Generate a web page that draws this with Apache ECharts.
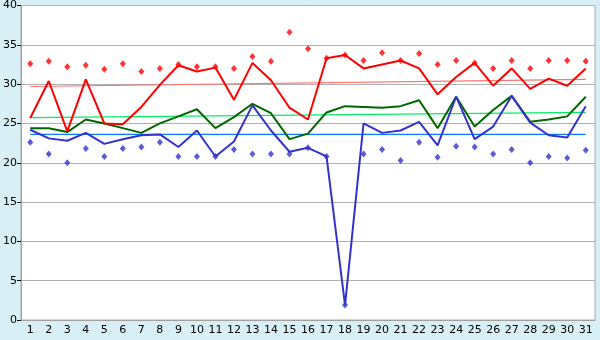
<!DOCTYPE html>
<html>
<head>
<meta charset="utf-8">
<script src="https://cdn.jsdelivr.net/npm/echarts@6/dist/echarts.min.js"></script>
<style>
html,body{margin:0;padding:0;background:#d9eff6;}
#chart{width:600px;height:340px;}
</style>
</head>
<body>
<div id="chart"></div>
<script>
var days = ['1','2','3','4','5','6','7','8','9','10','11','12','13','14','15','16','17','18','19','20','21','22','23','24','25','26','27','28','29','30','31'];
var redLine = [25.7,30.4,24.0,30.6,25.0,24.9,27.1,29.9,32.4,31.6,32.1,28.0,32.7,30.5,27.0,25.5,33.3,33.7,32.0,32.5,33.0,32.0,28.7,30.9,32.7,29.8,32.0,29.4,30.7,29.8,32.0];
var redMax = [32.6,32.9,32.2,32.4,31.9,32.6,31.6,32.0,32.5,32.2,32.2,32.0,33.5,32.9,36.6,34.5,33.3,33.7,33.0,34.0,33.0,33.9,32.5,33.0,32.7,32.0,33.0,32.0,33.0,33.0,32.9];
var greenLine = [24.4,24.4,23.9,25.5,25.0,24.4,23.8,25.0,25.9,26.8,24.4,25.8,27.5,26.3,23.0,23.7,26.4,27.2,27.1,27.0,27.2,27.95,24.4,28.4,24.6,26.7,28.5,25.2,25.5,25.9,28.4];
var blueLine = [24.2,23.1,22.8,23.8,22.4,23.0,23.5,23.6,22.0,24.1,20.8,22.7,27.3,24.1,21.4,21.9,20.8,1.9,25.0,23.8,24.1,25.2,22.2,28.4,23.0,24.6,28.5,25.1,23.5,23.2,27.2];
var blueMin = [22.6,21.1,20.0,21.8,20.8,21.8,22.0,22.6,20.8,20.8,20.8,21.7,21.1,21.1,21.1,21.9,20.8,1.9,21.1,21.7,20.3,22.6,20.7,22.1,22.0,21.1,21.7,20.0,20.8,20.6,21.6];
var redTrend = [29.7, 30.6];
var greenTrend = [25.75, 26.4];
var blueTrend = [23.6, 23.6];
var yTicks = {min: 0, max: 40, interval: 5};

function trendData(ends) {
  var d = [];
  for (var i = 0; i < days.length; i++) d.push(null);
  d[0] = ends[0];
  d[days.length - 1] = ends[1];
  return d;
}

var chart = echarts.init(document.getElementById('chart'), null, {renderer: 'canvas'});
var fontFam = 'DejaVu Sans';
chart.setOption({
  animation: false,
  backgroundColor: '#d9eff6',
  grid: {left: 20, right: 5, top: 5, bottom: 20, show: true, backgroundColor: '#ffffff', borderColor: '#a8a8a8', borderWidth: 1, containLabel: false},
  xAxis: {
    type: 'category', data: days, boundaryGap: true,
    axisLine: {lineStyle: {color: '#a0a0a0', width: 1}},
    axisTick: {alignWithLabel: true, length: 4, lineStyle: {color: '#000000'}},
    axisLabel: {color: '#000', fontFamily: fontFam, fontSize: 11, margin: 5, interval: 0},
    splitLine: {show: false}
  },
  yAxis: {
    type: 'value', min: yTicks.min, max: yTicks.max, interval: yTicks.interval,
    axisLine: {show: true, lineStyle: {color: '#a0a0a0', width: 1}},
    axisTick: {show: true, length: 4, lineStyle: {color: '#000000'}},
    axisLabel: {color: '#000', fontFamily: fontFam, fontSize: 11, margin: 4},
    splitLine: {lineStyle: {color: '#b0b0b0', width: 1}}
  },
  series: [
    {type: 'line', data: trendData(redTrend), connectNulls: true, showSymbol: false, lineStyle: {color: '#ff7070', width: 1.2}, z: 1},
    {type: 'line', data: trendData(greenTrend), connectNulls: true, showSymbol: false, lineStyle: {color: '#00ee66', width: 1.2}, z: 1},
    {type: 'line', data: trendData(blueTrend), connectNulls: true, showSymbol: false, lineStyle: {color: '#0a7cff', width: 1.2}, z: 1},
    {type: 'line', data: greenLine, showSymbol: false, lineStyle: {color: '#006600', width: 2}, z: 2},
    {type: 'line', data: blueLine, showSymbol: false, lineStyle: {color: '#3333cc', width: 2}, z: 3},
    {type: 'line', data: redLine, showSymbol: false, lineStyle: {color: '#ff0000', width: 2}, z: 4},
    {type: 'scatter', data: redMax, symbol: 'diamond', symbolSize: [6, 7], itemStyle: {color: '#ff0000'}, z: 5},
    {type: 'scatter', data: blueMin, symbol: 'diamond', symbolSize: [6, 7], itemStyle: {color: '#3333cc'}, z: 5}
  ]
});
</script>
</body>
</html>
